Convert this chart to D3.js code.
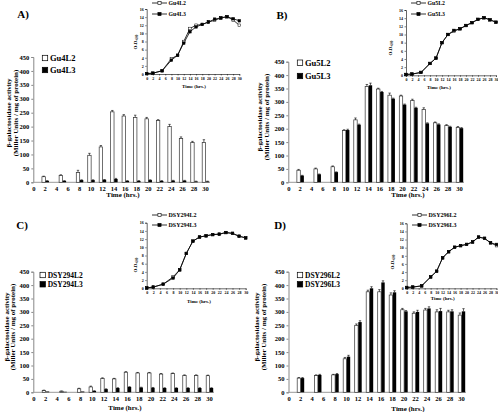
<!DOCTYPE html>
<html><head><meta charset="utf-8">
<script src="https://cdn.jsdelivr.net/npm/d3@7"></script>
<style>
body{margin:0;background:#fff}
svg{display:block}
text{font-family:"Liberation Serif","Times New Roman",serif;font-weight:bold;fill:#000}
</style>
</head><body>
<svg id="chart" width="498" height="412"></svg>
<script>
// ---------- data ----------
const timeTicks = [0,2,4,6,8,10,12,14,16,18,20,22,24,26,28,30];
const barTimes = [2,5,8,10,12,14,16,18,20,22,24,26,28,30];
const odTimes = [0,2,5,8,10,12,14,16,18,20,22,24,26,28,30];
const activityTicks = [0,50,100,150,200,250,300,350,400,450];
const odTicks = [0,2,4,6,8,10,12,14,16];

// Panel A
const gu4L2 = [20,25,35,97,127,253,238,233,228,222,200,157,143,143];
const gu4L2Err = [2,2,8,7,5,5,5,8,5,3,8,6,4,10];
const gu4L3 = [5,5,8,8,9,12,5,5,8,5,6,6,3,3];
const gu4L3Err = [1,1,1,1,1,2,1,1,1,1,1,1,1,1];
const odGu4L2 = [0.1,0.2,0.8,3.8,4.6,8.0,11.2,12.0,12.2,12.8,13.2,13.8,14.1,13.3,12.0];
const odGu4L3 = [0.1,0.2,0.8,3.4,4.6,7.6,10.4,11.6,12.2,12.8,13.5,13.8,14.1,13.6,13.1];

// Panel B
const gu5L2 = [45,50,58,193,233,358,348,325,322,305,272,222,212,205];
const gu5L2Err = [3,3,3,3,7,7,3,8,3,5,6,3,3,3];
const gu5L3 = [25,30,38,195,215,362,337,312,290,278,220,216,207,202];
const gu5L3Err = [1,1,1,3,2,8,2,2,2,2,2,2,2,2];
const odGu5L2 = [0.2,0.3,0.7,2.9,4.2,8.0,10.0,10.8,11.4,12.2,12.9,13.7,14.1,13.6,13.0];
const odGu5L3 = [0.2,0.3,0.7,2.9,4.2,8.0,10.0,11.0,11.4,12.2,12.9,13.7,14.1,13.6,13.0];

// Panel C
const dsy294L2 = [7,4,13,20,52,50,75,72,72,68,70,63,63,62];
const dsy294L2Err = [1,1,2,3,2,2,2,2,2,2,2,2,2,2];
const dsy294L3 = [3,2,3,5,12,16,20,18,17,16,16,16,16,16];
const dsy294L3Err = [0,0,0,1,1,1,1,1,1,1,1,1,1,1];
const odDsy294L2 = [0.1,0.3,1.0,2.8,4.5,8.5,11.5,12.5,12.8,13.1,13.2,13.6,13.4,12.7,12.3];
const odDsy294L3 = [0.1,0.3,1.0,2.5,4.5,8.5,11.5,12.5,12.8,13.1,13.2,13.6,13.4,12.7,12.3];

// Panel D
const dsy296L2 = [53,63,65,125,250,375,375,363,308,295,307,300,300,288];
const dsy296L2Err = [2,2,2,5,5,6,8,8,5,5,6,8,6,8];
const dsy296L3 = [53,65,68,133,262,388,410,373,302,300,313,303,302,302];
const dsy296L3Err = [2,2,2,5,5,6,6,6,3,6,6,10,6,10];
const odDsy296L2 = [0.2,0.3,0.6,2.8,4.2,7.5,9.0,10.1,10.5,10.8,11.4,12.6,12.3,11.2,10.5];
const odDsy296L3 = [0.2,0.3,0.6,2.8,4.2,7.5,9.0,10.1,10.5,10.8,11.4,12.6,12.3,11.2,10.8];

// ---------- layout ----------
const panels = [
  {tag:"A)", tagX:23, tagY:18, n2:"Gu4L2", n3:"Gu4L3", b2:gu4L2, e2:gu4L2Err, b3:gu4L3, e3:gu4L3Err, o2:odGu4L2, o3:odGu4L3,
   x0:33.3, x1:205, y0:182.3, y1:57, xt:[123,197], yt:[8,15,113],
   leg:{x:45, y:[58,70], fs:8.5},
   ins:{x0:146.7, x1:239.3, y0:74, y1:9, tt:[194,87.5], yl:[135,42], leg:{x:152, y:[3,14], fs:5.8}}},
  {tag:"B)", tagX:282, tagY:19, n2:"Gu5L2", n3:"Gu5L3", b2:gu5L2, e2:gu5L2Err, b3:gu5L3, e3:gu5L3Err, o2:odGu5L2, o3:odGu5L3,
   x0:288.3, x1:459, y0:182.3, y1:61.7, xt:[408,197], yt:[259,266,117],
   leg:{x:300, y:[62.7,76], fs:8.5},
   ins:{x0:406, x1:496, y0:75.3, y1:10, tt:[439,88.5], yl:[390,48], leg:{x:411, y:[3,14], fs:5.8}}},
  {tag:"C)", tagX:22, tagY:229, n2:"DSY294L2", n3:"DSY294L3", b2:dsy294L2, e2:dsy294L2Err, b3:dsy294L3, e3:dsy294L3Err, o2:odDsy294L2, o3:odDsy294L3,
   x0:33.3, x1:209, y0:392.3, y1:271.7, xt:[125,410], yt:[6,12.5,327],
   leg:{x:42.7, y:[275,284.3], fs:7.5},
   ins:{x0:146.7, x1:245.7, y0:288.3, y1:222.7, tt:[199,303], yl:[135,265], leg:{x:152, y:[215,225], fs:6}}},
  {tag:"D)", tagX:280, tagY:229, n2:"DSY296L2", n3:"DSY296L3", b2:dsy296L2, e2:dsy296L2Err, b3:dsy296L3, e3:dsy296L3Err, o2:odDsy296L2, o3:odDsy296L3,
   x0:288.5, x1:461, y0:392.3, y1:271.7, xt:[408,410.5], yt:[256.7,263.3,327],
   leg:{x:300, y:[275,284.3], fs:7.5},
   ins:{x0:406.7, x1:496.5, y0:288.3, y1:223.3, tt:[442.7,299.5], yl:[391.7,262], leg:{x:412, y:[215,225], fs:6}}}
];

const svg = d3.select("#chart");

function drawPanel(p){
  const g = svg.append("g");
  const x = d3.scaleLinear().domain([0,30]).range([p.x0,p.x1]);
  const y = d3.scaleLinear().domain([0,450]).range([p.y0,p.y1]);
  const bw = 3.4;

  g.append("text").attr("x",p.tagX).attr("y",p.tagY).attr("font-size",11).attr("text-anchor","middle").text(p.tag);

  const ya = g.append("g").attr("transform",`translate(${p.x0},0)`)
    .call(d3.axisLeft(y).tickValues(activityTicks).tickSize(2).tickPadding(2).tickFormat(d3.format("d")));
  ya.select(".domain").attr("stroke","#888").attr("stroke-width",1);
  ya.selectAll(".tick line").attr("stroke","#888");
  ya.selectAll("text").attr("font-size",6.5).attr("font-family","Liberation Serif").attr("font-weight","bold");

  const xa = g.append("g").attr("transform",`translate(0,${p.y0})`)
    .call(d3.axisBottom(x).tickValues(timeTicks).tickSize(0).tickPadding(4).tickFormat(d3.format("d")));
  xa.select(".domain").remove();
  xa.append("line").attr("x1",p.x0).attr("x2",p.x1+5).attr("stroke","#999").attr("stroke-width",1);
  xa.selectAll("text").attr("font-size",6.5).attr("font-family","Liberation Serif").attr("font-weight","bold");

  const rows = barTimes.map((t,i)=>({t, v2:p.b2[i], e2:p.e2[i], v3:p.b3[i], e3:p.e3[i]}));
  g.selectAll(".b2").data(rows).join("rect")
    .attr("x",d=>x(d.t)-bw+0.6).attr("width",bw).attr("y",d=>y(d.v2)).attr("height",d=>p.y0-y(d.v2))
    .attr("fill","#fff").attr("stroke","#333").attr("stroke-width",0.7);
  g.selectAll(".b3").data(rows).join("rect")
    .attr("x",d=>x(d.t)+0.8).attr("width",bw).attr("y",d=>y(d.v3)).attr("height",d=>p.y0-y(d.v3))
    .attr("fill","#000");
  function err(cx, v, e){
    if(!e) return;
    g.append("line").attr("x1",cx).attr("x2",cx).attr("y1",y(v)).attr("y2",y(v+e)).attr("stroke","#000").attr("stroke-width",0.6);
    g.append("line").attr("x1",cx-1.2).attr("x2",cx+1.2).attr("y1",y(v+e)).attr("y2",y(v+e)).attr("stroke","#000").attr("stroke-width",0.6);
  }
  rows.forEach(d=>{ err(x(d.t)-bw/2+0.6,d.v2,d.e2); err(x(d.t)+0.8+bw/2,d.v3,d.e3); });

  g.append("text").attr("x",p.xt[0]).attr("y",p.xt[1]).attr("text-anchor","middle").attr("font-size",7).text("Time (hrs.)");
  g.append("text").attr("transform",`translate(${p.yt[0]+2.5},${p.yt[2]}) rotate(-90)`).attr("text-anchor","middle").attr("font-size",7).text("β-galactosidase activity");
  g.append("text").attr("transform",`translate(${p.yt[1]+2.5},${p.yt[2]}) rotate(-90)`).attr("text-anchor","middle").attr("font-size",7).text("(Miller Units / mg of protein)");

  [[p.n2,"#fff"],[p.n3,"#000"]].forEach(([n,f],i)=>{
    const ly = p.leg.y[i];
    g.append("rect").attr("x",p.leg.x-2.7).attr("y",ly-2.7).attr("width",5.4).attr("height",5.4).attr("fill",f).attr("stroke","#000").attr("stroke-width",0.7);
    g.append("text").attr("x",p.leg.x+5).attr("y",ly+p.leg.fs*0.35).attr("font-size",p.leg.fs).text(n);
  });

  drawInset(g,p);
}

function drawInset(g,p){
  const q = p.ins;
  const x = d3.scaleLinear().domain([0,30]).range([q.x0,q.x1]);
  const y = d3.scaleLinear().domain([0,16]).range([q.y0,q.y1]);
  const ya = g.append("g").attr("transform",`translate(${q.x0},0)`)
    .call(d3.axisLeft(y).tickValues(odTicks).tickSize(1.5).tickPadding(1.5).tickFormat(d3.format("d")));
  ya.select(".domain").attr("stroke","#000").attr("stroke-width",0.6);
  ya.selectAll(".tick line").attr("stroke","#000").attr("stroke-width",0.5);
  ya.selectAll("text").attr("font-size",4).attr("font-family","Liberation Serif").attr("font-weight","bold");
  const xa = g.append("g").attr("transform",`translate(0,${q.y0})`)
    .call(d3.axisBottom(x).tickValues(timeTicks).tickSize(1.5).tickPadding(1.5).tickFormat(d3.format("d")));
  xa.select(".domain").attr("stroke","#000").attr("stroke-width",0.6);
  xa.selectAll(".tick line").attr("stroke","#000").attr("stroke-width",0.5);
  xa.selectAll("text").attr("font-size",4).attr("font-family","Liberation Serif").attr("font-weight","bold");

  g.append("text").attr("x",q.tt[0]).attr("y",q.tt[1]).attr("text-anchor","middle").attr("font-size",5).text("Time (hrs.)");
  const yl = g.append("text").attr("transform",`translate(${q.yl[0]+2},${q.yl[1]}) rotate(-90)`).attr("text-anchor","middle").attr("font-size",5);
  yl.append("tspan").text("O.D.");
  yl.append("tspan").attr("font-size",3.2).attr("dy",1.3).text("600");

  const line = d3.line().x((d,i)=>x(odTimes[i])).y(d=>y(d));
  const series = [[p.o2,"#fff"],[p.o3,"#000"]];
  series.forEach(([vals])=>{
    g.append("path").datum(vals).attr("d",line).attr("fill","none").attr("stroke","#000").attr("stroke-width",0.8);
  });
  series.forEach(([vals,f])=>{
    g.selectAll(null).data(vals).join("rect")
      .attr("x",(d,i)=>x(odTimes[i])-1.3).attr("y",d=>y(d)-1.3).attr("width",2.6).attr("height",2.6)
      .attr("fill",f).attr("stroke","#000").attr("stroke-width",0.5);
  });
  [[p.n2,"#fff"],[p.n3,"#000"]].forEach(([n,f],i)=>{
    const ly = q.leg.y[i];
    g.append("line").attr("x1",q.leg.x).attr("x2",q.leg.x+15).attr("y1",ly).attr("y2",ly).attr("stroke","#000").attr("stroke-width",0.8);
    g.append("rect").attr("x",q.leg.x+7.5-1.6).attr("y",ly-1.6).attr("width",3.2).attr("height",3.2).attr("fill",f).attr("stroke","#000").attr("stroke-width",0.6);
    g.append("text").attr("x",q.leg.x+16.5).attr("y",ly+q.leg.fs*0.35).attr("font-size",q.leg.fs).text(n);
  });
}

panels.forEach(drawPanel);
</script>
</body></html>
